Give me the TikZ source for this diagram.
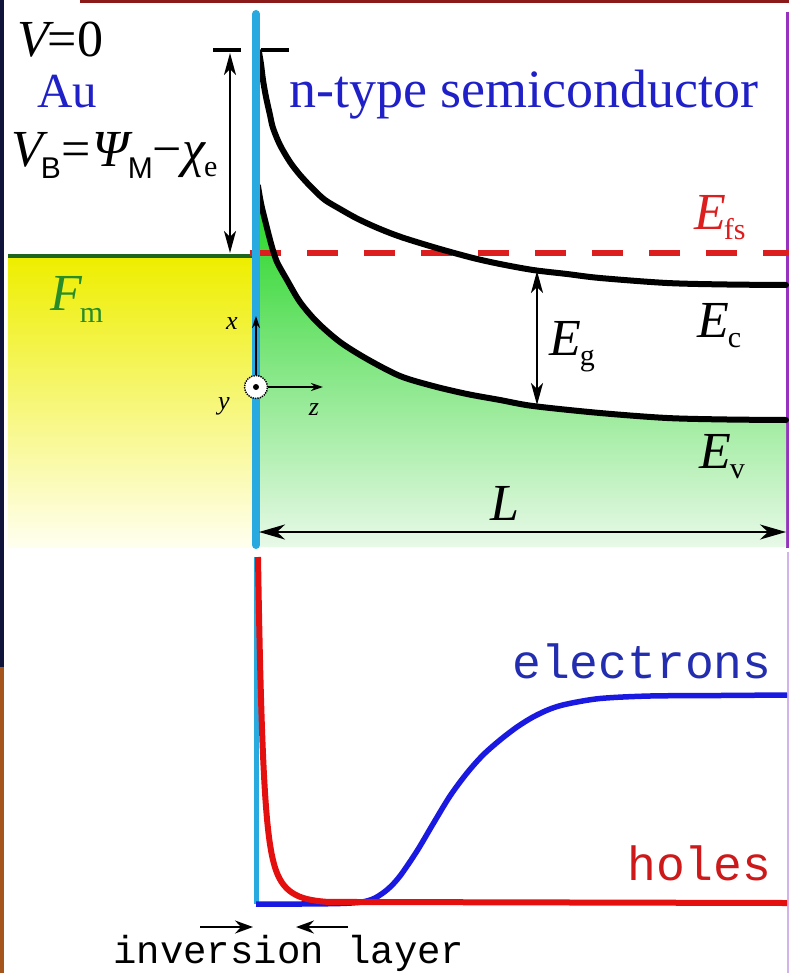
\documentclass[tikz,border=0pt]{standalone}
\usepackage{fontspec}
\setmainfont{Liberation Serif}
\newfontfamily\monof{Liberation Mono}
\newfontfamily\sansf{Liberation Sans}
\usetikzlibrary{arrows.meta}
\definecolor{cyanline}{RGB}{40,170,225}
\definecolor{txtblue}{RGB}{32,32,200}
\definecolor{efsred}{RGB}{220,30,30}
\definecolor{fmgreen}{RGB}{40,140,40}
\definecolor{metalline}{RGB}{30,100,30}
\definecolor{elblue}{RGB}{25,25,225}
\definecolor{elltxt}{RGB}{35,45,175}
\definecolor{holered}{RGB}{228,16,16}
\definecolor{holetxt}{RGB}{205,25,25}
\definecolor{framenavy}{RGB}{16,20,58}
\definecolor{framebrown}{RGB}{165,85,27}
\definecolor{framered}{RGB}{138,26,26}
\definecolor{framepurple}{RGB}{150,50,190}
\definecolor{framelilac}{RGB}{210,180,235}
\newcommand\bigfs{\fontsize{52}{60}\selectfont}
\newcommand\lowsub[2][11]{\raisebox{-#1pt}{\fontsize{30}{30}\selectfont\upshape #2}}
\begin{document}
\begin{tikzpicture}[x=1pt,y=-1pt,
  curve/.style={line width=6pt,line cap=round},
  dimarrow/.style={line width=2pt,{Stealth[length=22pt,width=12pt,inset=6pt]}-{Stealth[length=22pt,width=12pt,inset=6pt]}},
  axarrow/.style={line width=1.8pt,-{Stealth[length=12pt,width=8pt]}},
  invarrow/.style={line width=2.4pt,-{Stealth[length=18pt,width=13pt,inset=6pt]}},
  lbl/.style={inner sep=0pt,anchor=base west},
  axlbl/.style={inner sep=0pt,font=\fontsize{26}{26}\selectfont\itshape}]
\useasboundingbox (0,0) rectangle (789,973);
\fill[white] (0,0) rectangle (789,973);
% frame remnants
\fill[framered] (80,0) rectangle (789,3);
\fill[framenavy] (0,0) rectangle (3.5,667);
\fill[framebrown] (0,667) rectangle (3.5,973);
\draw[framepurple,line width=2.5pt] (787.5,12) -- (787.5,548);
\draw[framelilac,line width=2pt] (788,552) -- (788,973);
% metal region
\shade[top color={rgb,255:red,238;green,238;blue,0},middle color={rgb,255:red,244;green,244;blue,70},bottom color={rgb,255:red,255;green,255;blue,240}] (8,258) rectangle (253,547);
% semiconductor valence region
\shade[top color={rgb,255:red,30;green,212;blue,30},middle color={rgb,255:red,125;green,224;blue,125},bottom color={rgb,255:red,232;green,249;blue,232}]
  plot[smooth] coordinates {(258,186) (260,198) (262,208) (265,220) (268,232) (272,247) (277,262) (287,280) (300,302) (317,322) (340,342) (367,359) (400,376) (433,386) (467,394) (500,400) (533,406) (600,413) (667,418) (727,419.5) (786,420)}
  -- (786,547) -- (258,547) -- cycle;
% Fermi levels
\coordinate (fmL) at (8,256);
\coordinate (fmR) at (253,256);
\draw[metalline,line width=4.5pt] (fmL) -- (fmR);
\coordinate (fsL) at (250,253);
\coordinate (fsR) at (789,253);
\draw[efsred,line width=5.5pt,dash pattern=on 31pt off 26pt] (fsL) -- (fsR);
% bands
\draw[curve] plot[smooth] coordinates {(259,52) (261,64) (263,80) (266,97) (270,115) (273,128) (280,145) (290,162) (300,175) (313,189) (325,200) (340,209) (356,218) (373,226) (390,233) (407,239) (440,249) (473,258) (500,264) (533,270) (567,274) (600,278) (667,283) (727,284.5) (786,285)};
\draw[curve] plot[smooth] coordinates {(258,186) (260,198) (262,208) (265,220) (268,232) (272,247) (277,262) (287,280) (300,302) (317,322) (340,342) (367,359) (400,376) (433,386) (467,394) (500,400) (533,406) (600,413) (667,418) (727,419.5) (786,420)};
% interface
\coordinate (ifTop) at (256,14);
\coordinate (ifBot) at (256,545);
\draw[cyanline,line width=8pt,line cap=round] (ifTop) -- (ifBot);
% barrier marks
\coordinate (barLa) at (213,50); \coordinate (barLb) at (241,50);
\coordinate (barRa) at (261,50); \coordinate (barRb) at (289,50);
\draw[line width=4.5pt] (barLa) -- (barLb);
\draw[line width=4.5pt] (barRa) -- (barRb);
% dimension arrows
\coordinate (vbT) at (230,53); \coordinate (vbB) at (230,253);
\draw[dimarrow] (vbT) -- (vbB);
\coordinate (egT) at (537,271); \coordinate (egB) at (537,405);
\draw[dimarrow] (egT) -- (egB);
\coordinate (lL) at (259,532); \coordinate (lR) at (786,532);
\draw[line width=2.2pt,{Stealth[length=26pt,width=15pt,inset=8pt]}-{Stealth[length=26pt,width=15pt,inset=8pt]}] (lL) -- (lR);
% axes
\node[circle,draw,densely dotted,line width=1.4pt,fill=white,minimum size=23pt,inner sep=0pt] (orig) at (256,387) {};
\fill (orig.center) circle (3pt);
\coordinate (xEnd) at (256,316);
\coordinate (zEnd) at (323,387);
\draw[axarrow] (orig.north) -- (xEnd);
\draw[axarrow] (orig.east) -- (zEnd);
\node[axlbl] (xl) at (232,324) {x};
\node[axlbl] (yl) at (224,406) {y};
\node[axlbl] (zl) at (314,410) {z};
% labels upper panel
\node[lbl] (v0) at (17,57) {\bigfs\itshape V\upshape\kern-1pt=0};
\node[lbl,text=txtblue] (au) at (37,108) {\fontsize{49}{55}\selectfont Au};
\node[lbl,text=txtblue] (ntype) at (289,108) {\fontsize{54}{60}\selectfont n-type semiconductor};
\node[lbl] (vb) at (11,167) {\bigfs\itshape V\kern-2pt\lowsub[12]{\sansf B}\kern1pt\upshape=\itshape\kern1ptΨ\kern-1pt\lowsub[12]{\sansf M}\upshape−\itshape χ\kern-1pt\lowsub[10]{e}};
\node[lbl,text=fmgreen] (fm) at (50,310) {\bigfs\itshape F\kern-2pt\lowsub[12]{m}};
\node[lbl,text=efsred] (efs) at (694,230) {\bigfs\itshape E\kern-2pt\lowsub[10]{fs}};
\node[lbl] (ec) at (697,337) {\bigfs\itshape E\kern-1pt\lowsub[10]{c}};
\node[lbl] (eg) at (549,355) {\bigfs\itshape E\kern-1pt\lowsub[10]{g}};
\node[lbl] (ev) at (699,468) {\bigfs\itshape E\kern-1pt\lowsub[10]{v}};
\node[lbl] (ll) at (490,520) {\bigfs\itshape L};
% lower panel
\coordinate (ifTop2) at (256,557);
\coordinate (ifBot2) at (256,904);
\draw[cyanline,line width=5pt] (ifTop2) -- (ifBot2);
\draw[elblue,line width=5.5pt,line join=round] plot[smooth] coordinates {(256,904) (300,904) (340,903.5) (362,902) (375,898) (388,889) (400,876) (417,851) (433,824) (450,796) (467,773) (483,755) (500,740) (517,727) (533,717) (550,709) (567,704) (600,698.5) (650,696) (720,695.5) (787,695)};
\draw[holered,line width=6pt,line join=round] plot[domain=0:70,samples=160] ({258+\x},{903-260*exp(-\x/4.5)-86*exp(-\x/16)}) -- (787,903);
\node[lbl,text=elltxt] (el) at (512,678) {\fontsize{48}{50}\monof electrons};
\node[lbl,text=holetxt] (ho) at (627,880) {\fontsize{48}{50}\monof holes};
\node[lbl] (inv) at (113,963) {\fontsize{39}{40}\monof inversion layer};
\coordinate (ia1) at (200,927); \coordinate (ia1e) at (253,927);
\coordinate (ia2) at (348,927); \coordinate (ia2e) at (296,927);
\draw[invarrow] (ia1) -- (ia1e);
\draw[invarrow] (ia2) -- (ia2e);
\end{tikzpicture}
\end{document}
